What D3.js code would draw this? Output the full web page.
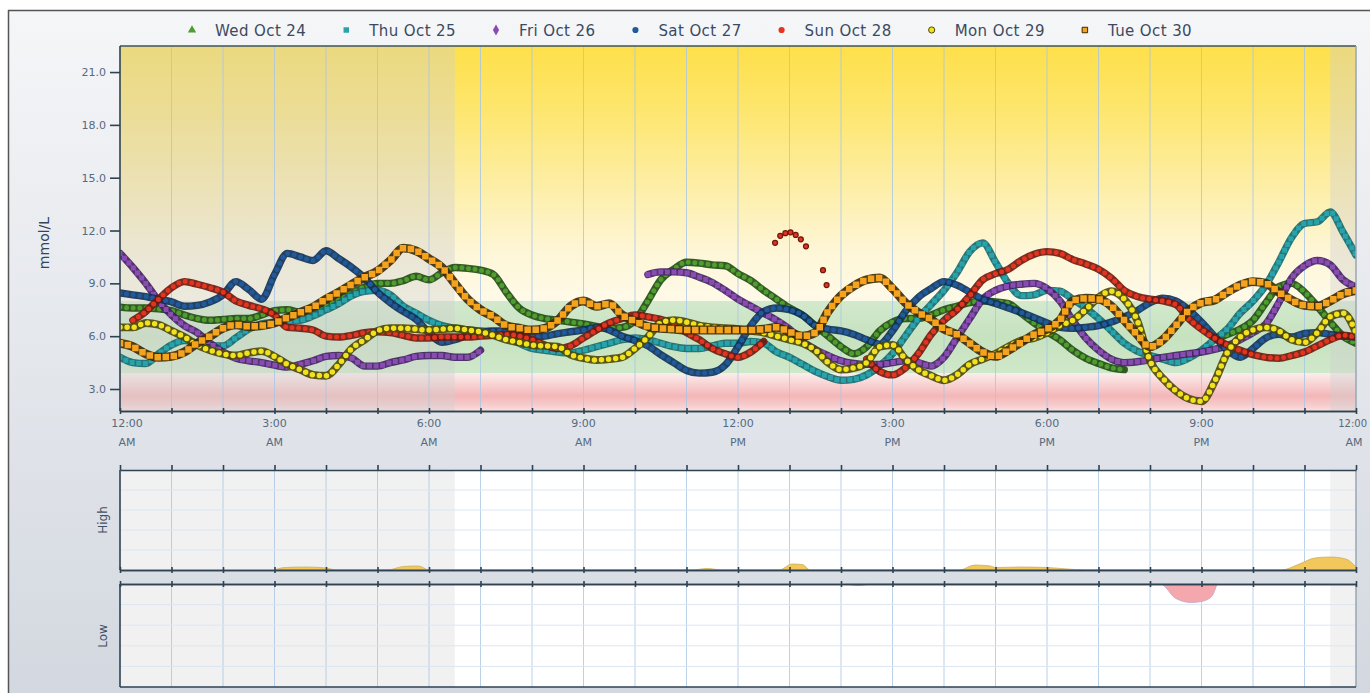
<!DOCTYPE html>
<html><head><meta charset="utf-8">
<script src="https://cdn.jsdelivr.net/npm/d3@7"></script>
<style>
html,body{margin:0;padding:0;background:#fff;}
svg{display:block;font-family:"DejaVu Sans",sans-serif;}
</style></head><body>
<svg id="chart" width="1370" height="693"></svg>
<script>
// ---------------- DATA ----------------
const seriesNames = ["Wed Oct 24","Thu Oct 25","Fri Oct 26","Sat Oct 27","Sun Oct 28","Mon Oct 29","Tue Oct 30"];
// readings on a 15-minute grid from 12:00 AM to 12:00 AM (97 readings), mmol/L
const wed = [7.65,7.6,7.6,7.55,7.45,7.2,7.0,6.9,6.95,7.0,
 7.0,7.2,7.45,7.5,7.35,7.35,7.7,8.05,8.45,8.8,
 9.0,9.0,9.15,9.4,9.2,9.6,9.9,9.85,9.75,9.5,
 8.5,7.6,7.2,7.0,6.9,6.8,6.7,6.55,6.45,6.5,
 6.9,8.0,9.2,9.8,10.2,10.15,10.05,10.0,9.55,9.15,
 8.6,8.1,7.6,7.2,6.6,6.0,5.4,5.0,5.4,6.3,
 6.8,7.0,7.0,7.2,7.5,7.7,7.9,8.0,7.95,7.85,
 7.3,6.75,6.25,5.8,5.2,4.75,4.45,4.2,4.1,null,
 null,null,null,null,null,5.8,6.1,6.4,6.9,7.9,
 8.8,9.0,8.5,7.7,6.8,6.0,5.6];
const thu = [4.8,4.5,4.45,5.0,5.5,5.75,5.6,5.45,5.45,5.9,
 6.4,6.7,6.8,6.85,6.9,7.15,7.5,7.85,8.3,8.55,
 8.6,8.35,7.7,7.3,6.9,6.6,6.45,6.35,6.3,6.25,
 6.0,5.6,5.3,5.2,5.1,5.05,5.2,5.4,5.6,5.8,
 5.9,5.8,5.6,5.4,5.3,5.3,5.45,5.6,5.6,5.7,
 5.6,5.1,4.8,4.4,4.0,3.7,3.5,3.55,3.8,4.3,
 5.0,6.0,7.0,7.8,8.6,9.6,10.8,11.3,10.2,9.0,
 8.3,8.35,8.6,8.55,8.1,7.6,7.0,6.3,5.6,5.15,
 4.9,4.7,4.5,4.75,5.2,5.8,6.4,7.3,8.0,8.9,
 10.2,11.6,12.4,12.5,13.05,11.9,10.6];
const fri = [10.7,9.9,9.0,8.0,7.2,6.6,6.2,5.6,5.1,4.75,
 4.6,4.5,4.35,4.25,4.4,4.6,4.85,4.9,4.75,4.3,
 4.3,4.5,4.65,4.85,4.9,4.9,4.8,4.8,5.2,null,
 null,null,null,null,null,null,null,null,null,null,
 null,9.5,9.65,9.65,9.6,9.35,9.05,8.6,8.1,7.7,
 7.3,6.9,6.4,5.7,5.25,4.9,4.6,4.45,4.4,4.4,
 4.5,4.6,4.5,4.3,4.8,5.9,7.0,8.1,8.6,8.85,
 8.95,9.0,8.7,8.0,6.9,5.9,5.2,4.7,4.5,4.55,
 4.65,4.8,4.9,5.0,5.1,5.25,5.45,5.8,6.2,6.7,
 7.9,9.3,10.0,10.3,10.05,9.2,8.8];
const sat = [8.45,8.35,8.25,8.1,7.95,7.7,7.75,7.95,8.35,9.1,
 8.65,8.1,9.5,10.7,10.5,10.3,10.85,10.4,9.9,9.3,
 8.5,7.9,7.4,6.95,6.2,5.65,5.8,6.05,6.2,6.3,
 6.3,6.15,5.95,6.0,6.15,6.25,6.35,6.5,6.35,6.0,
 5.75,5.45,4.95,4.5,4.05,3.9,3.95,4.35,5.4,6.6,
 7.4,7.6,7.5,7.2,6.6,6.4,6.3,6.1,5.8,5.55,
 6.3,7.4,8.2,8.7,9.1,8.9,8.5,8.1,7.85,7.6,
 7.35,7.05,6.75,6.5,6.45,6.5,6.6,6.8,7.1,7.45,
 7.9,8.15,8.0,7.5,6.8,6.0,5.2,4.8,5.3,5.9,
 6.1,5.95,6.15,6.2,6.1,6.0,5.95];
const sun = [null,6.9,7.4,8.1,8.75,9.1,8.95,8.75,8.5,8.0,
 7.75,7.55,7.2,6.5,6.45,6.35,6.0,5.95,6.05,6.2,
 6.25,6.2,6.05,5.9,5.9,5.95,5.95,5.95,6.0,6.05,
 6.1,6.0,5.8,5.5,5.3,5.45,5.9,6.35,6.75,7.0,
 7.2,7.1,6.95,6.7,6.2,5.8,5.3,5.0,4.8,5.1,
 5.7,null,null,null,null,null,null,null,4.7,4.0,
 3.8,4.2,5.0,6.1,6.9,7.5,8.3,9.2,9.55,9.8,
 10.3,10.65,10.8,10.7,10.35,10.1,9.8,9.3,8.6,8.25,
 8.1,8.0,7.8,7.0,6.4,5.9,5.5,5.2,4.95,4.8,
 4.75,4.9,5.1,5.45,5.8,6.05,5.95];
// separate sparse Sun Oct 28 readings around 1 PM (hour, value)
const sunSparseHours  = [12.72, 12.82, 12.92, 13.02, 13.12, 13.22, 13.32, 13.65, 13.72];
const sunSparseValues = [11.3, 11.7, 11.85, 11.9, 11.75, 11.5, 11.1, 9.75, 8.9];
const mon = [6.5,6.5,6.75,6.65,6.3,5.95,5.5,5.2,5.0,4.9,
 5.05,5.15,4.85,4.4,4.1,3.8,3.75,4.4,5.3,5.8,
 6.3,6.45,6.45,6.4,6.35,6.4,6.45,6.35,6.25,6.05,
 5.8,5.65,5.5,5.45,5.4,4.95,4.75,4.65,4.7,4.8,
 5.3,5.95,6.75,6.9,6.8,6.6,6.5,6.45,6.4,6.3,
 6.2,6.0,5.8,5.6,5.2,4.5,4.1,4.2,4.5,5.4,
 5.5,4.7,4.1,3.75,3.5,3.8,4.4,4.7,5.0,5.4,
 5.75,5.9,6.2,6.6,6.9,7.5,8.2,8.55,8.1,6.9,
 4.6,3.6,2.9,2.45,2.3,3.4,5.05,5.95,6.35,6.5,
 6.3,5.8,5.65,6.2,7.1,7.3,6.2];
const tue = [5.6,5.4,5.0,4.8,4.85,5.1,5.6,6.0,6.45,6.65,
 6.55,6.6,6.75,7.05,7.35,7.65,8.1,8.5,8.95,9.35,
 9.7,10.3,11.0,10.85,10.4,9.9,9.0,8.1,7.5,7.1,
 6.6,6.45,6.35,6.45,6.9,7.7,8.0,7.7,7.85,7.2,
 6.85,6.55,6.45,6.4,6.35,6.35,6.35,6.35,6.35,6.35,
 6.4,6.5,6.25,6.0,6.2,7.4,8.3,8.85,9.2,9.3,
 8.7,7.9,7.35,6.95,6.4,6.1,5.6,5.1,4.85,5.2,
 5.65,6.1,6.4,6.9,8.0,8.15,8.1,7.7,6.9,6.1,
 5.4,5.8,6.6,7.45,7.9,8.05,8.5,8.9,9.1,9.0,
 8.5,8.05,7.75,7.7,8.0,8.4,8.6];

const yTicks = [3,6,9,12,15,18,21];
const timeLabels = ["12:00","3:00","6:00","9:00","12:00","3:00","6:00","9:00","12:00"];
const periodLabels = ["AM","AM","AM","AM","PM","PM","PM","PM","AM"];
const targetRange = [3.9, 8.0];
const nightWindows = [[0, 6.5], [23.5, 24]];

// lower panels: time in hours, amount of excursion
const highHours  = [3.0,3.2,3.6,4.0,4.2, 5.2,5.5,5.8,6.0, 11.1,11.4,11.7, 12.8,13.05,13.25,13.4, 16.3,16.6,16.9,17.0,17.5,18.0,18.4,18.75, 22.55,22.9,23.2,23.5,23.8,24];
const highValues = [0,0.25,0.3,0.2,0, 0,0.35,0.4,0, 0,0.15,0, 0,0.6,0.55,0, 0,0.5,0.4,0.25,0.3,0.25,0.1,0, 0,0.6,1.2,1.3,1.1,0.3];
const lowHours   = [14.1,14.35,14.6, 20.2,20.5,20.8,21.0,21.2,21.3];
const lowValues  = [0,0.15,0, 0,1.4,1.8,1.7,1.2,0];

// ---------------- STYLE ----------------
const styles = [
  {color:"#4f9d2c", edge:"#1f4a12", size:5,   cap:"round",  legend:d3.symbolTriangle},
  {color:"#26a3ab", edge:"#17666c", size:5,   cap:"square", legend:d3.symbolSquare},
  {color:"#8a4cb3", edge:"#3f2160", size:5,   cap:"square", legend:d3.symbolDiamond},
  {color:"#1f5b9c", edge:"#0f2f55", size:5,   cap:"round",  legend:d3.symbolCircle},
  {color:"#e2341f", edge:"#6e160c", size:5,   cap:"round",  legend:d3.symbolCircle},
  {color:"#f1e21c", edge:"#4e4708", size:5.5, cap:"round",  legend:d3.symbolCircle},
  {color:"#f5a31c", edge:"#3d2804", size:6.5, cap:"square", legend:d3.symbolSquare}
];
const seriesValues = [wed, thu, fri, sat, sun, mon, tue];
const hours = d3.range(0, 97).map(i => i / 4);

// ---------------- LAYOUT ----------------
const svg = d3.select("#chart");
const M = {left:120, right:1356, top:46, bottom:411};
const HP = {top:470, bottom:570};
const LP = {top:584, bottom:687};
const x = d3.scaleLinear().domain([0,24]).range([M.left, M.right]);
const y = d3.scaleLinear().domain([1.75, 22.48]).range([M.bottom, M.top]);
const hy = d3.scaleLinear().domain([0,10]).range([HP.bottom, HP.top]);
const ly = d3.scaleLinear().domain([0,10]).range([LP.top, LP.bottom]);

const defs = svg.append("defs");
function grad(id, stops){
  const g = defs.append("linearGradient").attr("id", id).attr("x1",0).attr("y1",0).attr("x2",0).attr("y2",1);
  stops.forEach(s => g.append("stop").attr("offset", s[0]).attr("stop-color", s[1]));
}
grad("bg", [[0,"#f5f6f8"],[0.5,"#e4e7ec"],[1,"#d3d8e0"]]);
grad("yel", [[0,"#fde04a"],[0.25,"#fde66e"],[0.55,"#fdeea6"],[0.8,"#fdf6d6"],[1,"#fffae8"]]);
grad("grn", [[0,"#d3e9cd"],[0.5,"#c6e2bf"],[1,"#d0e8ca"]]);
grad("red", [[0,"#fbeeee"],[0.3,"#f8d2d2"],[0.6,"#f4b6b8"],[0.85,"#f7cccd"],[1,"#fae0e0"]]);
defs.append("clipPath").attr("id","clipMain").append("rect")
  .attr("x", M.left).attr("y", M.top).attr("width", M.right-M.left).attr("height", M.bottom-M.top);

// page background and frame
svg.append("rect").attr("x",0).attr("y",0).attr("width",1370).attr("height",693).attr("fill","#fff");
svg.append("rect").attr("x",8).attr("y",10).attr("width",1362).attr("height",683).attr("fill","url(#bg)");
svg.append("line").attr("x1",8).attr("x2",1370).attr("y1",10.5).attr("y2",10.5).attr("stroke","#555").attr("stroke-width",1.5);
svg.append("line").attr("x1",8.5).attr("x2",8.5).attr("y1",10).attr("y2",693).attr("stroke","#555").attr("stroke-width",1.5);

// ---------------- MAIN PLOT ----------------
const main = svg.append("g");
main.append("rect").attr("x",M.left).attr("width",M.right-M.left)
  .attr("y",M.top).attr("height",y(targetRange[1])-M.top).attr("fill","url(#yel)");
main.append("rect").attr("x",M.left).attr("width",M.right-M.left)
  .attr("y",y(targetRange[1])).attr("height",y(targetRange[0])-y(targetRange[1])).attr("fill","url(#grn)");
main.append("rect").attr("x",M.left).attr("width",M.right-M.left)
  .attr("y",y(targetRange[0])).attr("height",M.bottom-y(targetRange[0])).attr("fill","url(#red)");
nightWindows.forEach(w => {
  main.append("rect").attr("x",x(w[0])).attr("width",x(w[1])-x(w[0]))
    .attr("y",M.top).attr("height",M.bottom-M.top).attr("fill","#cfcfcf").attr("opacity",0.4);
});
// grid
main.append("g").selectAll("line").data(d3.range(1,24)).join("line")
  .attr("x1",d=>x(d)).attr("x2",d=>x(d)).attr("y1",M.top).attr("y2",M.bottom)
  .attr("stroke","#a9c6e6").attr("stroke-width",1).attr("opacity",0.8);

// series
const lineGen = d3.line().defined(d => d[1] != null).x(d => x(d[0])).y(d => y(d[1])).curve(d3.curveMonotoneX);
const sg = main.append("g").attr("clip-path","url(#clipMain)");
seriesValues.forEach((vals, k) => {
  const st = styles[k];
  const pts = hours.map((h,i) => [h, vals[i]]);
  const d = lineGen(pts);
  sg.append("path").attr("d", d).attr("fill","none").attr("stroke", st.edge)
    .attr("stroke-width", st.size + 2.4).attr("stroke-linejoin","round").attr("stroke-linecap","round").attr("opacity",0.9);
  sg.append("path").attr("d", d).attr("fill","none").attr("stroke", st.color)
    .attr("stroke-width", st.size).attr("stroke-linecap", st.cap)
    .attr("stroke-dasharray", `0 ${st.size + 1.6}`);
  if (k === 4) {
    sg.selectAll(null).data(sunSparseHours.map((h,i)=>[h, sunSparseValues[i]])).join("circle")
      .attr("cx", d=>x(d[0])).attr("cy", d=>y(d[1])).attr("r", st.size/2)
      .attr("fill", st.color).attr("stroke", st.edge).attr("stroke-width",1.2);
  }
});

// frame and axes
main.append("line").attr("x1",M.left).attr("x2",M.right).attr("y1",M.top).attr("y2",M.top).attr("stroke","#3b5364").attr("stroke-width",1.5);
main.append("line").attr("x1",M.right).attr("x2",M.right).attr("y1",M.top).attr("y2",M.bottom).attr("stroke","#9aa6b2").attr("stroke-width",1.5);

const axisColor = "#2e4252";
function styleAxis(g){
  g.select(".domain").attr("stroke", axisColor).attr("stroke-width",1.6);
  g.selectAll(".tick line").attr("stroke", axisColor).attr("stroke-width",1.6);
  g.selectAll(".tick text").attr("fill","#566a80").attr("font-size","11px").attr("font-family","DejaVu Sans, sans-serif");
}
function hourTicks(yPos, up, down){
  if (down) svg.append("g").attr("transform",`translate(0,${yPos})`)
    .call(d3.axisBottom(x).tickValues(d3.range(0,25)).tickSize(down).tickSizeOuter(0).tickFormat("")).call(styleAxis);
  if (up) svg.append("g").attr("transform",`translate(0,${yPos})`)
    .call(d3.axisTop(x).tickValues(d3.range(0,25)).tickSize(up).tickSizeOuter(0).tickFormat("")).call(styleAxis);
}
hourTicks(M.bottom, 3, 3);

const yAxis = svg.append("g").attr("transform",`translate(${M.left},0)`)
  .call(d3.axisLeft(y).tickValues(yTicks).tickSize(10).tickPadding(4).tickSizeOuter(0).tickFormat(d3.format(".1f")))
  .call(styleAxis);
yAxis.select(".domain").attr("d", `M0,${M.top}V${M.bottom}`);

// x labels
const xl = svg.append("g").attr("font-size","11px").attr("fill","#566a80").attr("text-anchor","middle");
timeLabels.forEach((t,i) => {
  const last = i === timeLabels.length - 1;
  const hx = x(i*3) + (i===0 ? 7 : 0) - (last ? 2 : 0);
  const t1 = xl.append("text").attr("x", hx).attr("y", 427).text(t);
  if (last) t1.attr("text-anchor","end").attr("x", 1367).attr("font-size","10px");
  xl.append("text").attr("x", hx).attr("y", 446).text(periodLabels[i]);
});

svg.append("text").attr("transform","translate(49,243) rotate(-90)").attr("text-anchor","middle")
  .attr("font-size","14px").attr("fill","#34465c").text("mmol/L");

// ---------------- LOWER PANELS ----------------
function panel(top, bottom, label, labelY){
  const g = svg.append("g");
  g.append("rect").attr("x",M.left).attr("y",top).attr("width",M.right-M.left).attr("height",bottom-top).attr("fill","#ffffff");
  nightWindows.forEach(w => {
    g.append("rect").attr("x",x(w[0])).attr("width",x(w[1])-x(w[0])).attr("y",top).attr("height",bottom-top)
      .attr("fill","#cfcfcf").attr("opacity",0.3);
  });
  g.append("g").selectAll("line").data(d3.range(1,24)).join("line")
    .attr("x1",d=>x(d)).attr("x2",d=>x(d)).attr("y1",top).attr("y2",bottom)
    .attr("stroke","#a9c6e6").attr("stroke-width",1).attr("opacity",0.8);
  g.append("g").selectAll("line").data([0.2,0.4,0.6,0.8]).join("line")
    .attr("x1",M.left).attr("x2",M.right).attr("y1",d=>top+(bottom-top)*d).attr("y2",d=>top+(bottom-top)*d)
    .attr("stroke","#dbe6f2").attr("stroke-width",1);
  svg.append("text").attr("transform",`translate(107,${labelY}) rotate(-90)`).attr("text-anchor","middle")
    .attr("font-size","12px").attr("fill","#3e5064").text(label);
  return g;
}
const hpG = panel(HP.top, HP.bottom, "High", 520);
const lpG = panel(LP.top, LP.bottom, "Low", 636);

hpG.append("path").datum(highHours.map((h,i)=>[h, highValues[i]]))
  .attr("d", d3.area().x(d=>x(d[0])).y0(hy(0)).y1(d=>hy(d[1])).curve(d3.curveMonotoneX))
  .attr("fill","#f2c75c").attr("stroke","#c9b060").attr("stroke-width",0.8);
lpG.append("path").datum(lowHours.map((h,i)=>[h, lowValues[i]]))
  .attr("d", d3.area().x(d=>x(d[0])).y0(ly(0)).y1(d=>ly(d[1])).curve(d3.curveMonotoneX))
  .attr("fill","#f4a7ad").attr("stroke","#c7a4c4").attr("stroke-width",0.8);

// panel borders / axes
[[HP.top,HP.bottom],[LP.top,LP.bottom]].forEach(p => {
  svg.append("line").attr("x1",M.left).attr("x2",M.left).attr("y1",p[0]).attr("y2",p[1]).attr("stroke",axisColor).attr("stroke-width",1.6);
  svg.append("line").attr("x1",M.right).attr("x2",M.right).attr("y1",p[0]).attr("y2",p[1]).attr("stroke","#9aa6b2").attr("stroke-width",1.5);
});
hourTicks(HP.top, 5, 0);
hourTicks(HP.bottom, 3, 3);
hourTicks(LP.top, 3, 3);
svg.append("line").attr("x1",M.left).attr("x2",M.right).attr("y1",LP.bottom).attr("y2",LP.bottom).attr("stroke",axisColor).attr("stroke-width",1.6);

// ---------------- LEGEND ----------------
const lg = svg.append("g").attr("font-size","15px").attr("fill","#3a4a62");
let lx = 192;
seriesNames.forEach((name, k) => {
  const st = styles[k];
  lg.append("path").attr("transform",`translate(${lx},30)`)
    .attr("d", d3.symbol().type(st.legend).size(k===2?34:30)())
    .attr("fill", st.color).attr("stroke", k>=5 ? st.edge : "none").attr("stroke-width",1);
  const t = lg.append("text").attr("x", lx+23).attr("y", 35.5).attr("letter-spacing","0.4px").text(name);
  lx = lx + 23 + t.node().getComputedTextLength() + 40;
});
</script>
</body></html>
